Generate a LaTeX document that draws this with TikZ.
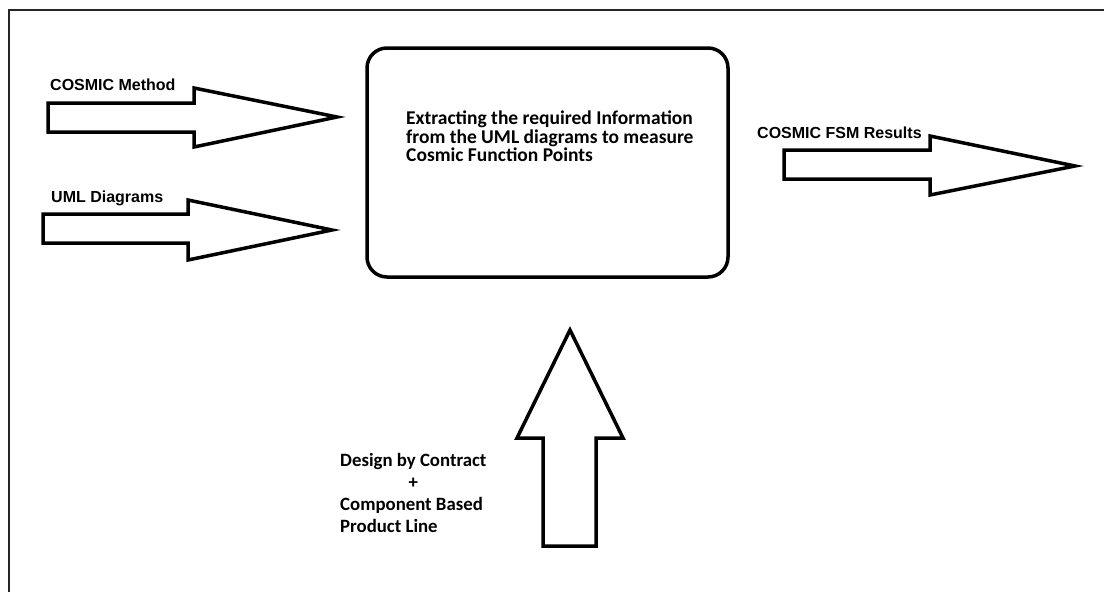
\documentclass[tikz,border=0pt]{standalone}
\usepackage{fontspec}
\setmainfont{Carlito}
\newfontfamily\arialfont{Liberation Sans}
\begin{document}
\begin{tikzpicture}[x=1pt,y=-1pt,
  blockarrow/.style={draw=black,line width=3.5pt,fill=white,line join=miter},
  arlabel/.style={font=\arialfont\bfseries\fontsize{16}{19}\selectfont,inner sep=0pt,anchor=base west},
  cblabel/.style={font=\bfseries\fontsize{19.5}{18.5}\selectfont,inner sep=0pt,align=left},
  procbox/.style={draw=black,line width=3.5pt,rounded corners=20pt,fill=white}]
\useasboundingbox (0,0) rectangle (1104,592);
\fill[white] (0,0) rectangle (1104,592);
\draw[line width=2pt,black!85] (9,592) -- (9,10) -- (1104,10);
% process box
\draw[procbox] (367,48) rectangle (728,277);
\node[cblabel,anchor=north west] (proctext) at (406,111)
  {Extracting the required Information\\from the UML diagrams to measure\\Cosmic Function Points};
% input arrows
\draw[blockarrow] (48,103) -- (194,103) -- (194,88) -- (337,117) -- (194,147) -- (194,132) -- (48,132) -- cycle;
\draw[blockarrow] (43,214) -- (188,214) -- (188,200) -- (332,230) -- (188,260) -- (188,243) -- (43,243) -- cycle;
\node[arlabel] (cosmic) at (50,90) {COSMIC Method};
\node[arlabel] (uml) at (51,202) {UML Diagrams};
% output arrow
\draw[blockarrow] (784,150) -- (930,150) -- (930,136) -- (1075,166) -- (930,195) -- (930,179) -- (784,179) -- cycle;
\node[arlabel] (fsm) at (757,138) {COSMIC FSM Results};
% up arrow
\draw[blockarrow] (543,546) -- (543,438) -- (517,438) -- (570,330) -- (623,438) -- (596,438) -- (596,546) -- cycle;
\node[font=\bfseries\fontsize{18.8}{22}\selectfont,inner sep=0pt,anchor=north west] (dbc) at (340,451)
  {\begin{tabular}{@{}l@{}}Design by Contract\\\multicolumn{1}{@{}c@{}}{+}\\Component Based\\Product Line\end{tabular}};
\end{tikzpicture}
\end{document}
